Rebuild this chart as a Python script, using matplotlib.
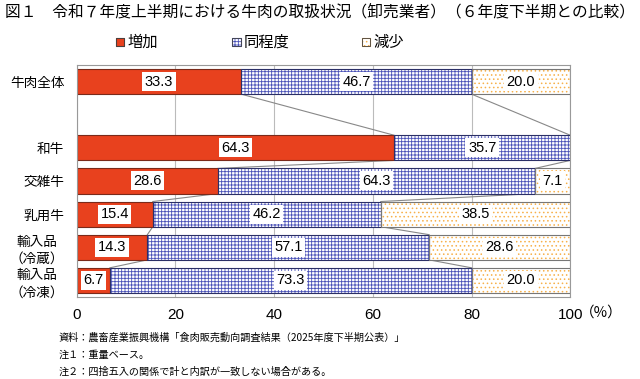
import numpy as np
import matplotlib
matplotlib.use("Agg")
import matplotlib.pyplot as plt
from matplotlib.patches import Rectangle
from matplotlib.transforms import blended_transform_factory

plt.rcParams['font.family'] = ['Noto Sans CJK JP', 'DejaVu Sans']
plt.rcParams['hatch.linewidth'] = 0.6

categories = ["牛肉全体", "", "和牛", "交雑牛", "乳用牛", "輸入品\n（冷蔵）", "輸入品\n（冷凍）"]
increase = [33.3, None, 64.3, 28.6, 15.4, 14.3, 6.7]
same = [46.7, None, 35.7, 64.3, 46.2, 57.1, 73.3]
decrease = [20.0, None, 0.0, 7.1, 38.5, 28.6, 20.0]
series_names = ["増加", "同程度", "減少"]
xticks = [0, 20, 40, 60, 80, 100]

RED = "#E8411E"
BLUE = "#4A52B8"
ORANGE = "#F7B04A"

fig = plt.figure(figsize=(6.4, 3.79), dpi=100)
ax = fig.add_axes([0.120, 0.2164, 0.771, 0.6122])

h = 0.76
ypos = np.arange(len(categories))
rows = [i for i in ypos if increase[i] is not None]

for i in rows:
    a, b, c = increase[i], same[i], decrease[i]
    ax.barh(i, a, height=h, color=RED, edgecolor="#7a2a1a", linewidth=0.8, zorder=2)
    ax.barh(i, b, left=a, height=h, color="white", edgecolor=BLUE, hatch="+++++",
            linewidth=0, zorder=2)
    ax.barh(i, b, left=a, height=h, color="none", edgecolor="#2b2f66", linewidth=0.8, zorder=3)
    if c > 0:
        ax.barh(i, c, left=a + b, height=h, color="white", edgecolor=ORANGE, hatch="....",
                linewidth=0, zorder=2)
        ax.barh(i, c, left=a + b, height=h, color="none", edgecolor="#777777",
                linewidth=0.8, zorder=3)
    for left, w in [(0, a), (a, b), (a + b, c)]:
        if w > 0:
            ax.text(left + w / 2, i, f"{w:.1f}", ha="center", va="center", fontsize=10.5,
                    family=['Liberation Sans', 'DejaVu Sans'], zorder=5,
                    bbox=dict(facecolor="white", edgecolor="none", pad=1.8))

# series lines between consecutive bars
for k in range(len(rows) - 1):
    i, j = rows[k], rows[k + 1]
    for xs0, xs1 in [(increase[i], increase[j]),
                     (increase[i] + same[i], increase[j] + same[j])]:
        ax.plot([xs0, xs1], [i + h / 2, j - h / 2], color="#888888", lw=0.8, zorder=1)

ax.set_xlim(0, 100)
ax.set_ylim(len(categories) - 0.5, -0.5)
ax.set_xticks(xticks)
ax.set_xticklabels([str(x) for x in xticks], fontsize=11,
                   family=['Liberation Sans', 'DejaVu Sans'])
ax.set_yticks(ypos)
ax.set_yticklabels(categories, fontsize=9.8, linespacing=1.3)
for lab in ax.get_yticklabels():
    lab.set_multialignment("center")
ax.tick_params(length=0, pad=8)
ax.tick_params(axis="y", pad=9)
ax.xaxis.grid(True, color="#bbbbbb", lw=0.8, zorder=0)
ax.set_axisbelow(True)
for s in ax.spines.values():
    s.set_color("#999999")
    s.set_linewidth(0.8)

ax.text(102.0, -0.035, "（%）", transform=blended_transform_factory(ax.transData, ax.transAxes),
        ha="left", va="top", fontsize=10.5, clip_on=False)

fig.text(0.008, 0.968, "図１　令和７年度上半期における牛肉の取扱状況（卸売業者）（６年度下半期との比較）",
         fontsize=11.3, ha="left", va="center")

# legend
legend_x = [0.193, 0.375, 0.577]
styles = [dict(facecolor=RED, edgecolor="#7a2a1a"),
          dict(facecolor="white", edgecolor=BLUE, hatch="+++++"),
          dict(facecolor="white", edgecolor=ORANGE, hatch="....")]
for lx, name, st in zip(legend_x, series_names, styles):
    fig.add_artist(Rectangle((lx - 0.012, 0.879), 0.013, 0.022, transform=fig.transFigure,
                             linewidth=0.8, **st))
    fig.add_artist(Rectangle((lx - 0.012, 0.879), 0.013, 0.022, transform=fig.transFigure,
                             facecolor="none", edgecolor="#444444", linewidth=0.6))
    fig.text(lx + 0.006, 0.889, name, fontsize=11, ha="left", va="center")

notes = ["資料：農畜産業振興機構「食肉販売動向調査結果（2025年度下半期公表）」",
         "注１：重量ベース。",
         "注２：四捨五入の関係で計と内訳が一致しない場合がある。"]
for k, t in enumerate(notes):
    fig.text(0.092, 0.108 - k * 0.045, t, fontsize=7.3, ha="left", va="center")

fig.savefig("out.png", dpi=100)
